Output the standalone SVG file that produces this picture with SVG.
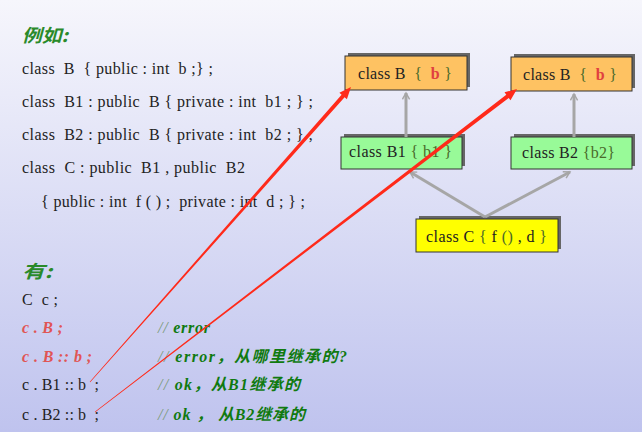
<svg xmlns="http://www.w3.org/2000/svg" width="642" height="432" viewBox="0 0 642 432">
<defs>
<linearGradient id="bg" x1="0" y1="0" x2="0" y2="1">
<stop offset="0" stop-color="#f6f6fc"/>
<stop offset="1" stop-color="#bfc3ee"/>
</linearGradient>
<marker id="chev" viewBox="0 0 10 10" refX="8" refY="5" markerWidth="3" markerHeight="3" orient="auto" markerUnits="strokeWidth">
<path d="M1,1 L8,5 L1,9" fill="none" stroke="#a6a6a6" stroke-width="1.6"/>
</marker>
<style>
text{white-space:pre}
.t{font-family:"Liberation Serif","Times New Roman",serif;font-size:16px;fill:#222}
.cn{font-family:"Noto Sans CJK SC",sans-serif;font-size:18px;font-style:italic;font-weight:bold;fill:#2a8a2a}
.red{fill:#e05555;font-weight:bold;font-style:italic}
.cm{font-family:"Liberation Serif","Noto Sans CJK SC",serif;font-size:16px;font-style:italic;font-weight:bold;fill:#107a10}
.sl{fill:#7a9a7a;font-weight:normal}
.br{fill:#4a6a2a}
.bb{fill:#e04040;font-weight:bold}
.sh{fill:#666}
.box{stroke:#333;stroke-width:1}
.gl{stroke:#a6a6a6;stroke-width:3;fill:none}
.ra{fill:#ff2a1a}
</style>
</defs>
<rect width="642" height="432" fill="url(#bg)"/>
<g id="code">
<text class="cn" x="22" y="42" textLength="46" lengthAdjust="spacingAndGlyphs">例如:</text>
<text class="t" x="22" y="74" textLength="191">class  B  { public : int  b ;} ;</text>
<text class="t" x="22" y="107" textLength="291">class  B1 : public  B { private : int  b1 ; } ;</text>
<text class="t" x="22" y="140" textLength="291">class  B2 : public  B { private : int  b2 ; } ;</text>
<text class="t" x="22" y="173" textLength="223">class  C : public  B1 , public  B2</text>
<text class="t" x="41" y="207" textLength="264">{ public : int  f ( ) ;  private : int  d ; } ;</text>
<text class="cn" x="22" y="278" textLength="30" lengthAdjust="spacingAndGlyphs">有:</text>
<text class="t" x="22" y="305" textLength="36">C  c ;</text>
<text class="t red" x="22" y="333" textLength="41">c . B ;</text>
<text class="t red" x="22" y="362" textLength="70">c . B :: b ;</text>
<text class="t" x="22" y="390" textLength="77">c . B1 :: b  ;</text>
<text class="t" x="22" y="420" textLength="77">c . B2 :: b  ;</text>
<text class="cm" x="158" y="333" textLength="52"><tspan class="sl">//</tspan> error</text>
<text class="cm" x="158" y="362" textLength="189"><tspan class="sl">//</tspan> error，从哪里继承的?</text>
<text class="cm" x="158" y="390" textLength="142"><tspan class="sl">//</tspan> ok，从B1继承的</text>
<text class="cm" x="158" y="420" textLength="147"><tspan class="sl">//</tspan> ok ， 从B2继承的</text>
</g>
<g id="nodeB1top">
<rect class="sh" x="348" y="53" width="122" height="34"/>
<rect class="box" x="345" y="56" width="122" height="34" fill="#fec262"/>
<text class="t" x="358" y="79" textLength="94">class B  <tspan class="br">{</tspan>  <tspan class="bb">b</tspan> <tspan class="br">}</tspan></text>
</g>
<g id="nodeB2top">
<rect class="sh" x="514" y="54" width="121" height="34"/>
<rect class="box" x="511" y="57" width="121" height="34" fill="#fec262"/>
<text class="t" x="523" y="80" textLength="94">class B  <tspan class="br">{</tspan>  <tspan class="bb">b</tspan> <tspan class="br">}</tspan></text>
</g>
<g id="nodeB1">
<rect class="sh" x="344" y="134" width="121" height="32"/>
<rect class="box" x="341" y="137" width="121" height="32" fill="#98fa98"/>
<text class="t" x="349" y="157" textLength="103">class B1 <tspan class="br">{ b1 }</tspan></text>
</g>
<g id="nodeB2">
<rect class="sh" x="514" y="134" width="121" height="32"/>
<rect class="box" x="511" y="137" width="121" height="32" fill="#98fa98"/>
<text class="t" x="522" y="158" textLength="93">class B2 <tspan class="br">{b2}</tspan></text>
</g>
<g id="nodeC">
<rect class="sh" x="419" y="216" width="142" height="33"/>
<rect class="box" x="416" y="219" width="142" height="33" fill="#ffff00"/>
<text class="t" x="426" y="242" textLength="121">class C <tspan class="br">{</tspan> f <tspan class="br">()</tspan> , d <tspan class="br">}</tspan></text>
</g>
<g id="connectors">
<line class="gl" x1="406" y1="137" x2="406" y2="93" marker-end="url(#chev)"/>
<line class="gl" x1="574" y1="137" x2="574" y2="94" marker-end="url(#chev)"/>
<line class="gl" x1="485" y1="217" x2="410" y2="172" marker-end="url(#chev)"/>
<line class="gl" x1="485" y1="217" x2="570" y2="172" marker-end="url(#chev)"/>
<polygon class="ra" points="90.2,382.2 344.6,97.3 346.9,99.3 351,87 339.4,92.7 341.6,94.7 89.8,381.8"/>
<polygon class="ra" points="95.2,412.2 508.7,97.9 510.5,100.3 517,89 504.5,92.3 506.3,94.7 94.8,411.8"/>
</g>
</svg>
